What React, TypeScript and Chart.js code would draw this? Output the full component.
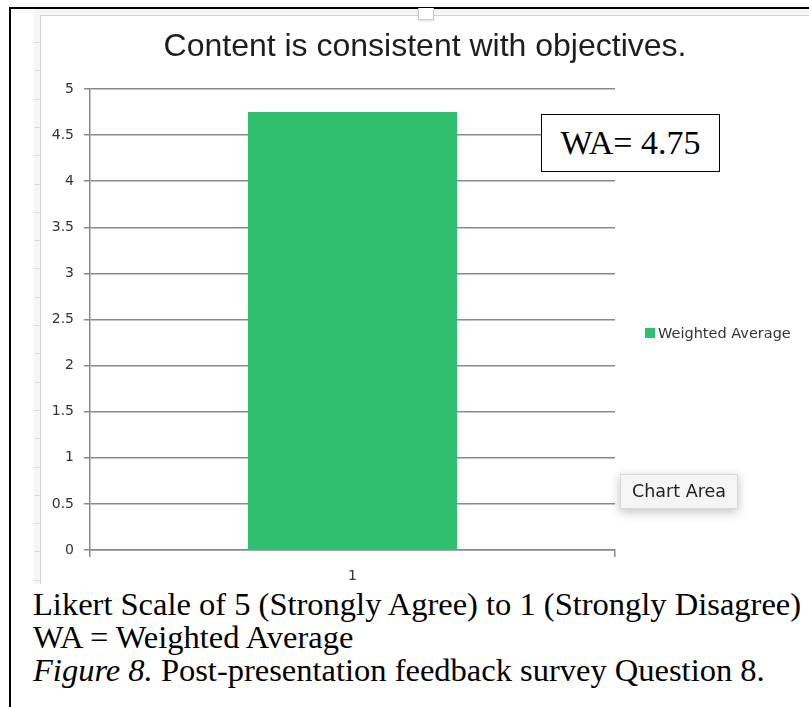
import React, { useEffect, useRef } from "react";
import { Chart, registerables } from "chart.js";

Chart.register(...registerables);

const CHART_TITLE = "Content is consistent with objectives.";
const CATEGORIES = ["1"];
const SERIES_NAME = "Weighted Average";
const WEIGHTED_AVERAGE = [4.75];
const Y_MIN = 0;
const Y_MAX = 5;
const Y_STEP = 0.5;
const Y_TICK_LABELS = ["0", "0.5", "1", "1.5", "2", "2.5", "3", "3.5", "4", "4.5", "5"];
const ANNOTATION = "WA= 4.75";
const CAPTION_LINES = [
  "Likert Scale of 5 (Strongly Agree) to 1 (Strongly Disagree)",
  "WA = Weighted Average",
];
const FIGURE_LABEL = "Figure 8.";
const FIGURE_TEXT = " Post-presentation feedback survey Question 8.";

const BAR_COLOR = "#2ebe6e";
const AXIS_COLOR = "#8a8a8a";

export default function App() {
  const canvasRef = useRef<HTMLCanvasElement | null>(null);

  useEffect(() => {
    if (!canvasRef.current) return;
    const chart = new Chart(canvasRef.current, {
      type: "bar",
      data: {
        labels: CATEGORIES,
        datasets: [
          {
            label: SERIES_NAME,
            data: WEIGHTED_AVERAGE,
            backgroundColor: BAR_COLOR,
            borderWidth: 0,
            categoryPercentage: 1,
            barPercentage: 0.398,
            yAxisID: "y",
          },
        ],
      },
      options: {
        responsive: false,
        animation: false,
        devicePixelRatio: 1,
        layout: { padding: 0 },
        plugins: {
          legend: { display: false },
          tooltip: { enabled: false },
          title: {
            display: true,
            text: CHART_TITLE,
            color: "#1e1e1e",
            font: { family: "'Liberation Sans', Arial, sans-serif", size: 32, weight: "normal" },
            padding: { top: 13.8, bottom: 22.8 },
          },
        },
        scales: {
          x: {
            offset: true,
            grid: {
              display: true,
              offset: true,
              drawOnChartArea: false,
              drawTicks: true,
              tickLength: 7,
              color: AXIS_COLOR,
              lineWidth: 1.5,
            },
            border: { display: true, color: AXIS_COLOR, width: 1.5 },
            ticks: {
              color: "#333",
              padding: 11,
              font: { family: "'DejaVu Sans', sans-serif", size: 14 },
            },
            afterFit: (scale: any) => {
              scale.height = 30;
            },
          },
          y: {
            position: "left",
            min: Y_MIN,
            max: Y_MAX,
            ticks: {
              stepSize: Y_STEP,
              color: "#333",
              padding: 10,
              font: { family: "'DejaVu Sans', sans-serif", size: 14 },
              callback: (_v: any, i: number) => Y_TICK_LABELS[i],
            },
            grid: {
              color: AXIS_COLOR,
              lineWidth: 1.5,
              drawTicks: true,
              tickLength: 6,
            },
            border: { display: true, color: AXIS_COLOR, width: 1.5 },
            afterFit: (scale: any) => {
              scale.width = 49;
            },
          },
          legendSpace: {
            type: "linear",
            position: "right",
            display: true,
            grid: { display: false, drawOnChartArea: false, drawTicks: false },
            border: { display: false },
            ticks: { display: false },
            afterFit: (scale: any) => {
              scale.width = 194;
            },
          },
        },
      },
    });
    return () => chart.destroy();
  }, []);

  const rulerTicks: number[] = [];
  for (let y = 42; y < 585; y += 28.3) rulerTicks.push(Math.round(y));

  return (
    <div
      style={{
        position: "absolute",
        left: 0,
        top: 0,
        width: 809,
        height: 707,
        background: "#fff",
        overflow: "hidden",
      }}
    >
      <div style={{ position: "absolute", left: 9, top: 7, width: 2, height: 700, background: "#000" }} />
      <div style={{ position: "absolute", left: 9, top: 7, width: 800, height: 2, background: "#000" }} />
      <div style={{ position: "absolute", left: 34, top: 9, width: 6, height: 575, background: "#f6f6f6" }} />
      <div style={{ position: "absolute", left: 34, top: 9, width: 775, height: 6, background: "#f6f6f6" }} />
      <div style={{ position: "absolute", left: 40, top: 15, width: 1, height: 569, background: "#d2d2d2" }} />
      <div style={{ position: "absolute", left: 40, top: 15, width: 769, height: 1, background: "#d2d2d2" }} />
      {rulerTicks.map((y) => (
        <div key={y} style={{ position: "absolute", left: 34, top: y, width: 6, height: 1, background: "#dcdcdc" }} />
      ))}
      <div
        style={{
          position: "absolute",
          left: 418,
          top: 8,
          width: 14,
          height: 11,
          background: "#fff",
          border: "1px solid #cfcfcf",
          borderTop: "none",
          boxShadow: "0 1px 2px rgba(0,0,0,0.15)",
        }}
      />
      <canvas
        ref={canvasRef}
        width={768}
        height={566}
        style={{ position: "absolute", left: 41, top: 14, width: 768, height: 566 }}
      />
      <div style={{ position: "absolute", left: 645, top: 328, width: 10, height: 10, background: BAR_COLOR }} />
      <div
        style={{
          position: "absolute",
          left: 658,
          top: 323,
          height: 20,
          lineHeight: "20px",
          fontFamily: "'DejaVu Sans', sans-serif",
          fontSize: 14.5,
          color: "#333",
          whiteSpace: "nowrap",
        }}
      >
        {SERIES_NAME}
      </div>
      <div
        style={{
          position: "absolute",
          left: 541,
          top: 114,
          width: 177,
          height: 56,
          border: "1.5px solid #000",
          background: "#fff",
          fontFamily: "'Liberation Serif', 'Times New Roman', serif",
          fontSize: 34,
          lineHeight: "56px",
          textAlign: "center",
          color: "#000",
        }}
      >
        {ANNOTATION}
      </div>
      <div
        style={{
          position: "absolute",
          left: 620,
          top: 474,
          width: 116,
          height: 33,
          background: "#f5f5f5",
          border: "1px solid #d8d8d8",
          boxShadow: "0 3px 10px rgba(0,0,0,0.25)",
          fontFamily: "'DejaVu Sans', sans-serif",
          fontSize: 17.5,
          lineHeight: "33px",
          textAlign: "center",
          color: "#222",
          whiteSpace: "nowrap",
        }}
      >
        Chart Area
      </div>
      <div
        style={{
          position: "absolute",
          left: 33,
          top: 588,
          fontFamily: "'Liberation Serif', 'Times New Roman', serif",
          fontSize: 32.5,
          lineHeight: "33px",
          color: "#000",
          whiteSpace: "nowrap",
        }}
      >
        {CAPTION_LINES.map((l) => (
          <div key={l}>{l}</div>
        ))}
        <div>
          <i>{FIGURE_LABEL}</i>
          {FIGURE_TEXT}
        </div>
      </div>
    </div>
  );
}
